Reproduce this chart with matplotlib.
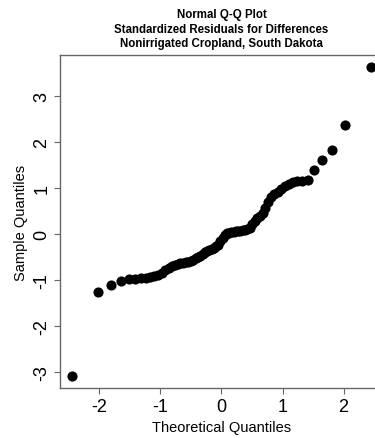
import matplotlib
matplotlib.use("Agg")
import matplotlib.pyplot as plt
from statistics import NormalDist

plt.rcParams['font.family'] = ['Liberation Sans', 'DejaVu Sans']

# Sorted standardized residuals (sample quantiles)
sample_values = [
    -3.07, -1.25, -1.09, -1.01, -0.98, -0.97, -0.95, -0.94, -0.92, -0.90,
    -0.88, -0.84, -0.78, -0.73, -0.69, -0.66, -0.65, -0.63, -0.62, -0.60,
    -0.59, -0.57, -0.55, -0.52, -0.49, -0.46, -0.42, -0.39, -0.36, -0.34,
    -0.31, -0.29, -0.26, -0.22, -0.15, -0.08, -0.02, 0.02, 0.04, 0.05,
    0.06, 0.07, 0.08, 0.08, 0.09, 0.10, 0.11, 0.14, 0.22, 0.30,
    0.36, 0.40, 0.47, 0.58, 0.70, 0.82, 0.87, 0.93, 0.98, 1.05,
    1.10, 1.13, 1.15, 1.16, 1.18, 1.40, 1.62, 1.84, 2.37, 3.63,
]
x_ticks = [-2, -1, 0, 1, 2]
y_ticks = [-3, -2, -1, 0, 1, 2, 3]
title_lines = ["Normal Q-Q Plot",
               "Standardized Residuals for Differences",
               "Nonirrigated Cropland, South Dakota"]

# Theoretical quantiles as qqnorm computes them (ppoints, a = 0.5)
n = len(sample_values)
theoretical = [NormalDist().inv_cdf((i + 0.5) / n) for i in range(n)]

fig = plt.figure(figsize=(3.75, 4.39), dpi=100)
ax = fig.add_axes([60/375, 1 - 389/439, (383 - 60)/375, (389 - 56)/439])

ax.plot(theoretical, sample_values, linestyle='none', marker='o',
        markersize=7.3, color='black', markeredgewidth=0)
ax.margins(x=0.04, y=0.04)

ax.set_xticks(x_ticks)
ax.set_yticks(y_ticks)
ax.set_xticklabels([str(t) for t in x_ticks])
ax.set_yticklabels([str(t) for t in y_ticks])
for lab in ax.get_yticklabels():
    lab.set_rotation(90)
    lab.set_va('center')

spine_color = '#666666'
for s in ax.spines.values():
    s.set_color(spine_color)
    s.set_linewidth(1.0)
ax.tick_params(axis='both', length=4, width=0.8, color=spine_color,
               labelsize=13, pad=3)

ax.set_xlabel("Theoretical Quantiles", fontsize=10.5, labelpad=4)
ax.set_ylabel("Sample Quantiles", fontsize=10.5, labelpad=4)

xc = (60 + 383) / 2 / 375
for k, line in enumerate(title_lines):
    fig.text(xc, 1 - (15 + 14.6 * k) / 439, line, ha='center', va='center',
             fontsize=8.3, fontweight='bold')

fig.savefig("out.png", dpi=100)
